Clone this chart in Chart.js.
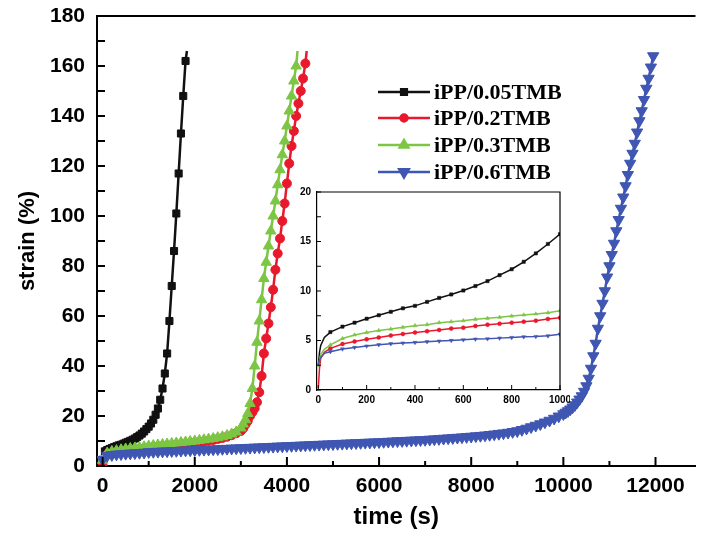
<!DOCTYPE html>
<html>
<head>
<meta charset="utf-8">
<script src="https://cdn.jsdelivr.net/npm/chart.js@4.4.0/dist/chart.umd.min.js"></script>
<style>
  html, body { margin: 0; padding: 0; background: #fff; }
  #wrap { position: relative; width: 703px; height: 540px; }
  #mainChart { position: absolute; left: 0; top: 0; }
  #insetChart { position: absolute; left: 280px; top: 182px; }
</style>
</head>
<body>
<div id="wrap">
  <canvas id="mainChart" width="703" height="540"></canvas>
  <canvas id="insetChart" width="290" height="228"></canvas>
</div>
<script>
// Series labels and look
const seriesNames = ['iPP/0.05TMB', 'iPP/0.2TMB', 'iPP/0.3TMB', 'iPP/0.6TMB'];
const seriesColors = ['#111111', '#e8192c', '#7cc644', '#3f56b2'];
const markerStyles = ['rect', 'circle', 'triangle', 'triangle'];
const markerRotation = [0, 0, 0, 180];

// Main plot: time (s) / strain (%)
const time005 = [0, 50, 100, 150, 200, 250, 300, 350, 400, 450, 500, 550, 600, 650, 700, 750, 800, 850, 900, 950, 1000,
    1050, 1100, 1150, 1200, 1250, 1300, 1350, 1400, 1450, 1500, 1550, 1600, 1650, 1700, 1750, 1800, 1830];
const strain005 = [2.5, 5.85, 6.4, 6.8, 7.2, 7.55, 7.9, 8.25, 8.5, 8.9, 9.3, 9.65, 10.05, 10.5, 11.0, 11.6, 12.2, 12.95, 13.8, 14.75, 15.75,
    17, 18.5, 20.5, 23, 26.5, 31, 37, 45, 58, 72, 86, 101, 117, 133, 148, 162, 166];

const time02 = [0, 100, 200, 300, 400, 500, 600, 700, 800, 900, 1000, 1100, 1200, 1300, 1400, 1500, 1600, 1700, 1800, 1900, 2000,
    2100, 2200, 2300, 2400, 2500, 2600, 2700, 2800, 2900, 3000, 3050, 3100, 3150, 3200, 3250, 3300, 3350, 3400, 3450, 3500,
    3550, 3600, 3650, 3700, 3750, 3800, 3850, 3900, 3950, 4000, 4050, 4100, 4150, 4200, 4250, 4300, 4350, 4400, 4430];
const strain02 = [0.2, 4.65, 5.12, 5.5, 5.8, 6.06, 6.3, 6.6, 6.8, 7.0, 7.3, 7.5, 7.7, 7.9, 8.1, 8.3, 8.5, 8.7, 8.9, 9.1, 9.3,
    9.55, 9.8, 10.1, 10.4, 10.8, 11.2, 11.7, 12.3, 13.1, 14.0, 15, 16.5, 18, 20, 21.5, 23, 25.5, 29.5, 36, 45,
    51, 57, 63.5, 70.5, 78.5, 85, 91, 98, 105, 113, 121, 128, 134, 140, 145, 150, 155, 161, 166];

const time03 = [0, 100, 200, 300, 400, 500, 600, 700, 800, 900, 1000, 1100, 1200, 1300, 1400, 1500, 1600, 1700, 1800, 1900, 2000,
    2100, 2200, 2300, 2400, 2500, 2600, 2700, 2800, 2900, 3000, 3050, 3100, 3150, 3200, 3250, 3300, 3350, 3400, 3450, 3500,
    3550, 3600, 3650, 3700, 3750, 3800, 3850, 3900, 3950, 4000, 4050, 4100, 4150, 4200, 4230];
const strain03 = [2.3, 5.2, 5.8, 6.15, 6.5, 6.8, 7.0, 7.24, 7.47, 7.68, 8.0, 8.2, 8.4, 8.6, 8.8, 9.0, 9.2, 9.4, 9.6, 9.8, 10.0,
    10.25, 10.5, 10.75, 11.0, 11.35, 11.7, 12.2, 12.8, 13.6, 15.2, 16.8, 18.5, 21, 25, 31, 40, 49.5, 58, 66.5, 75,
    81.5, 88, 94, 100, 106, 112.5, 118.5, 124.5, 130, 136, 142, 148, 154, 160, 166];

const time06 = [0, 100, 200, 300, 400, 500, 600, 700, 800, 900, 1000,
    1100, 1200, 1300, 1400, 1500, 1600, 1700, 1800, 1900, 2000,
    2100, 2200, 2300, 2400, 2500, 2600, 2700, 2800, 2900, 3000,
    3100, 3200, 3300, 3400, 3500, 3600, 3700, 3800, 3900, 4000,
    4100, 4200, 4300, 4400, 4500, 4600, 4700, 4800, 4900, 5000,
    5100, 5200, 5300, 5400, 5500, 5600, 5700, 5800, 5900, 6000,
    6100, 6200, 6300, 6400, 6500, 6600, 6700, 6800, 6900, 7000,
    7100, 7200, 7300, 7400, 7500, 7600, 7700, 7800, 7900, 8000,
    8100, 8200, 8300, 8400, 8500, 8600, 8700, 8800, 8900, 9000,
    9100, 9200, 9300, 9400, 9500, 9600, 9700, 9800, 9900, 10000,
    10050, 10100, 10150, 10200, 10250, 10300, 10350, 10400, 10450, 10500,
    10550, 10600, 10650, 10700, 10750, 10800, 10850, 10900, 10950, 11000,
    11050, 11100, 11150, 11200, 11250, 11300, 11350, 11400, 11450, 11500,
    11550, 11600, 11650, 11700, 11750, 11800, 11850, 11900, 11950];
const strain06 = [2.5, 4.14, 4.44, 4.67, 4.8, 4.94, 5.07, 5.17, 5.3, 5.4, 5.62,
    5.7, 5.78, 5.86, 5.94, 6.02, 6.1, 6.18, 6.26, 6.33, 6.4,
    6.48, 6.56, 6.64, 6.72, 6.8, 6.88, 6.96, 7.04, 7.12, 7.2,
    7.28, 7.36, 7.44, 7.52, 7.6, 7.68, 7.76, 7.84, 7.92, 8.0,
    8.08, 8.16, 8.24, 8.32, 8.4, 8.48, 8.56, 8.64, 8.72, 8.8,
    8.88, 8.96, 9.04, 9.12, 9.2, 9.28, 9.36, 9.44, 9.52, 9.6,
    9.69, 9.78, 9.87, 9.96, 10.05, 10.14, 10.23, 10.32, 10.41, 10.5,
    10.62, 10.74, 10.86, 10.99, 11.12, 11.25, 11.38, 11.52, 11.66, 11.8,
    11.96, 12.12, 12.3, 12.5, 12.7, 12.92, 13.14, 13.38, 13.68, 14.0,
    14.5, 15.0, 15.6, 16.2, 16.8, 17.5, 18.2, 19.0, 19.9, 20.8,
    21.4, 22, 22.7, 23.5, 24.4, 25.5, 26.7, 28, 29.8, 32,
    35, 39, 44, 49, 55, 60, 65, 70, 75.5, 80,
    84.5, 89, 94, 98.5, 103, 107.5, 112, 116.5, 121, 125,
    129, 133.5, 138, 142, 146.5, 151, 155, 159.5, 164];

// Inset: first 1000 s
const insetTime = [0, 5, 10, 25, 50, 100, 150, 200, 250, 300, 350, 400, 450, 500, 550, 600, 650, 700, 750, 800, 850, 900, 950, 1000];
const insetStrain005 = [2.5, 3.8, 4.5, 5.3, 5.85, 6.4, 6.8, 7.2, 7.55, 7.9, 8.25, 8.5, 8.9, 9.3, 9.65, 10.05, 10.5, 11.0, 11.6, 12.2, 12.95, 13.8, 14.75, 15.75];
const insetStrain02 = [0.2, 2.2, 3.2, 3.8, 4.2, 4.65, 4.9, 5.12, 5.3, 5.5, 5.66, 5.8, 5.94, 6.06, 6.2, 6.3, 6.46, 6.6, 6.7, 6.8, 6.9, 7.0, 7.17, 7.3];
const insetStrain03 = [2.3, 3.0, 3.6, 4.1, 4.55, 5.2, 5.56, 5.8, 6.0, 6.15, 6.33, 6.5, 6.6, 6.8, 6.9, 7.0, 7.14, 7.24, 7.34, 7.47, 7.58, 7.68, 7.8, 8.0];
const insetStrain06 = [2.5, 3.0, 3.3, 3.7, 3.87, 4.14, 4.3, 4.44, 4.57, 4.67, 4.74, 4.8, 4.88, 4.94, 5.0, 5.07, 5.14, 5.17, 5.24, 5.3, 5.37, 5.4, 5.47, 5.62];

// Axis ticks
const xTickLabels = [0, 2000, 4000, 6000, 8000, 10000, 12000];
const xMinorTicks = [1000, 3000, 5000, 7000, 9000, 11000];
const yTickLabels = [0, 20, 40, 60, 80, 100, 120, 140, 160, 180];
const yMinorTicks = [10, 30, 50, 70, 90, 110, 130, 150, 170];
const insetXTicks = [0, 200, 400, 600, 800, 1000];
const insetXMinor = [100, 300, 500, 700, 900];
const insetYTicks = [0, 5, 10, 15, 20];
const insetYMinor = [2.5, 7.5, 12.5, 17.5];

const mainSeries = [[time005, strain005], [time02, strain02], [time03, strain03], [time06, strain06]];
const insetSeries = [insetStrain005, insetStrain02, insetStrain03, insetStrain06];
const markerSize = [5, 4.5, 6, 6.5];
const hasTail = [true, true, true, false];
const drawOrder = [4, 3, 2, 1];

const sansBold = size => ({ family: 'Liberation Sans', weight: 'bold', size: size });
const plainLabel = v => String(v);

// Frame top/right and inward tick marks
const framePlugin = {
    id: 'frame',
    afterDraw(chart, args, opts) {
        const { ctx, chartArea: a, scales: { x, y } } = chart;
        ctx.save();
        ctx.strokeStyle = '#000';
        ctx.lineWidth = opts.lineWidth;
        ctx.beginPath();
        ctx.moveTo(a.left, a.top);
        ctx.lineTo(a.right, a.top);
        if (opts.right) ctx.lineTo(a.right, a.bottom);
        ctx.stroke();

        ctx.lineWidth = opts.tickWidth;
        ctx.beginPath();
        opts.xMajor.forEach(v => {
            const px = x.getPixelForValue(v);
            ctx.moveTo(px, a.bottom);
            ctx.lineTo(px, a.bottom - opts.majorLen);
        });
        opts.xMinor.forEach(v => {
            const px = x.getPixelForValue(v);
            ctx.moveTo(px, a.bottom);
            ctx.lineTo(px, a.bottom - opts.minorLen);
        });
        opts.yAll.forEach(v => {
            const py = y.getPixelForValue(v);
            ctx.moveTo(a.left, py);
            ctx.lineTo(a.left + opts.yLen, py);
        });
        ctx.stroke();
        ctx.restore();
    }
};

// Legend with line + marker samples
const legendPlugin = {
    id: 'lineLegend',
    afterDraw(chart) {
        const ctx = chart.ctx;
        const rows = [92, 118, 145, 172];
        ctx.save();
        seriesNames.forEach((name, i) => {
            const y = rows[i];
            ctx.strokeStyle = seriesColors[i];
            ctx.fillStyle = seriesColors[i];
            ctx.lineWidth = 2.5;
            ctx.beginPath();
            ctx.moveTo(378, y);
            ctx.lineTo(430, y);
            ctx.stroke();
            Chart.helpers.drawPoint(ctx, {
                pointStyle: markerStyles[i],
                rotation: markerRotation[i],
                radius: markerSize[i] - 1,
                borderWidth: 1
            }, 404, y);
            ctx.fillStyle = '#000';
            ctx.font = 'bold 22px "Liberation Serif"';
            ctx.textBaseline = 'middle';
            ctx.textAlign = 'left';
            ctx.fillText(name, 434, y + 1);
        });
        ctx.restore();
    }
};

const mainDatasets = mainSeries.map(([times, strains], i) => ({
    label: seriesNames[i],
    data: times.map((t, k) => ({ x: t, y: strains[k] })),
    showLine: true,
    borderColor: seriesColors[i],
    backgroundColor: seriesColors[i],
    borderWidth: 2.5,
    pointStyle: markerStyles[i],
    pointRotation: markerRotation[i],
    pointRadius: c => (hasTail[i] && c.dataIndex === times.length - 1) ? 0 : markerSize[i],
    pointBorderWidth: 1,
    pointBorderColor: seriesColors[i],
    pointBackgroundColor: seriesColors[i],
    tension: 0,
    order: drawOrder[i]
}));

new Chart(document.getElementById('mainChart'), {
    type: 'scatter',
    data: { datasets: mainDatasets },
    plugins: [framePlugin, legendPlugin],
    options: {
        responsive: false,
        animation: false,
        events: [],
        layout: { padding: { top: 16, left: 0, right: 0, bottom: 0 } },
        plugins: {
            legend: { display: false },
            tooltip: { enabled: false },
            frame: {
                lineWidth: 2, tickWidth: 2, right: false,
                xMajor: xTickLabels, xMinor: xMinorTicks, majorLen: 9, minorLen: 5,
                yAll: yTickLabels.concat(yMinorTicks), yLen: 8
            }
        },
        scales: {
            x: {
                type: 'linear', min: -122, max: 12868,
                grid: { display: false, drawTicks: false },
                border: { display: true, color: '#000', width: 2 },
                afterBuildTicks: s => { s.ticks = xTickLabels.map(v => ({ value: v })); },
                afterFit: s => { s.height = 74; s.paddingLeft = 0; s.paddingRight = 0; },
                ticks: { color: '#000', font: sansBold(21), padding: 8, maxRotation: 0, autoSkip: false, callback: plainLabel },
                title: { display: true, text: 'time (s)', color: '#000', font: sansBold(24), padding: { top: 0, bottom: 8 } }
            },
            y: {
                type: 'linear', min: 0, max: 180,
                grid: { display: false, drawTicks: false },
                border: { display: true, color: '#000', width: 2 },
                afterBuildTicks: s => { s.ticks = yTickLabels.map(v => ({ value: v })); },
                afterFit: s => { s.width = 97; s.paddingTop = 0; s.paddingBottom = 0; },
                ticks: { color: '#000', font: sansBold(21), padding: 12, autoSkip: false, callback: plainLabel },
                title: { display: true, text: 'strain (%)', color: '#000', font: sansBold(22), padding: { top: 15, bottom: 0 } }
            }
        }
    }
});

const insetDatasets = insetSeries.map((strains, i) => ({
    label: seriesNames[i],
    data: insetTime.map((t, k) => ({ x: t, y: strains[k] })),
    showLine: true,
    borderColor: seriesColors[i],
    backgroundColor: seriesColors[i],
    borderWidth: 1.5,
    pointStyle: markerStyles[i],
    pointRotation: markerRotation[i],
    pointRadius: c => (insetTime[c.dataIndex] > 0 && insetTime[c.dataIndex] % 50 === 0) ? (i === 1 ? 2 : 2.3) : 0,
    pointBorderWidth: 0.5,
    pointBorderColor: seriesColors[i],
    pointBackgroundColor: seriesColors[i],
    tension: 0,
    order: drawOrder[i]
}));

new Chart(document.getElementById('insetChart'), {
    type: 'scatter',
    data: { datasets: insetDatasets },
    plugins: [framePlugin],
    options: {
        responsive: false,
        animation: false,
        events: [],
        layout: { padding: { top: 10, left: 0, right: 10, bottom: 0 } },
        plugins: {
            legend: { display: false },
            tooltip: { enabled: false },
            frame: {
                lineWidth: 1.2, tickWidth: 1, right: true,
                xMajor: insetXTicks, xMinor: insetXMinor, majorLen: 5, minorLen: 3,
                yAll: insetYTicks.concat(insetYMinor), yLen: 4
            }
        },
        scales: {
            x: {
                type: 'linear', min: -5.4, max: 1000,
                grid: { display: false, drawTicks: false },
                border: { display: true, color: '#000', width: 1.2 },
                afterBuildTicks: s => { s.ticks = insetXTicks.map(v => ({ value: v })); },
                afterFit: s => { s.height = 20; s.paddingLeft = 0; s.paddingRight = 0; },
                ticks: { color: '#000', font: sansBold(10), padding: 4, maxRotation: 0, autoSkip: false, callback: plainLabel }
            },
            y: {
                type: 'linear', min: 0, max: 20,
                grid: { display: false, drawTicks: false },
                border: { display: true, color: '#000', width: 1.2 },
                afterBuildTicks: s => { s.ticks = insetYTicks.map(v => ({ value: v })); },
                afterFit: s => { s.width = 37; s.paddingTop = 0; s.paddingBottom = 0; },
                ticks: { color: '#000', font: sansBold(10), padding: 6, autoSkip: false, callback: plainLabel }
            }
        }
    }
});
</script>
</body>
</html>
